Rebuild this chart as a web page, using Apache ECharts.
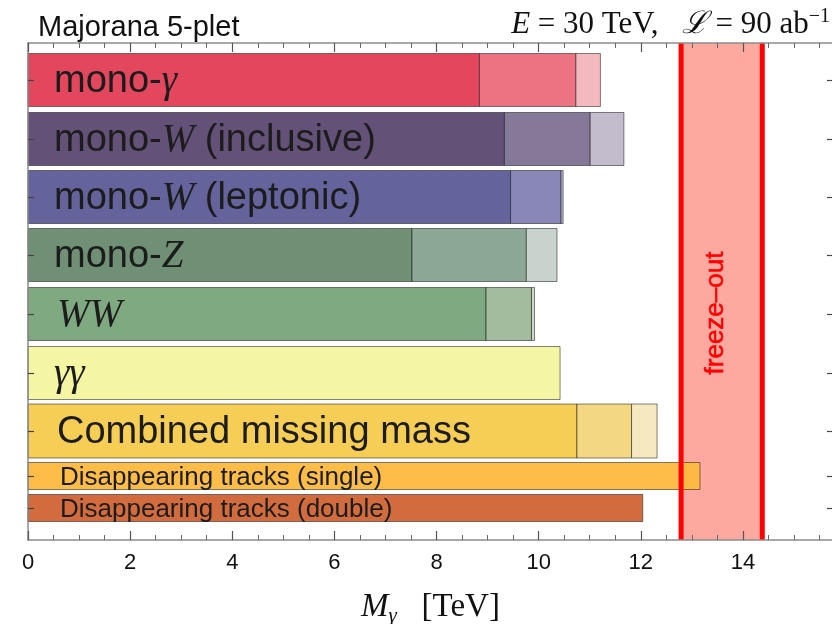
<!DOCTYPE html>
<html><head><meta charset="utf-8">
<script src="https://cdn.jsdelivr.net/npm/echarts@6/dist/echarts.min.js"></script>
<style>html,body{margin:0;padding:0;background:#fff}#c{width:832px;height:624px}</style>
</head><body><div id="c"></div>
<script>
// ---------------- data ----------------
const channels = ['mono-γ', 'mono-W (inclusive)', 'mono-W (leptonic)', 'mono-Z', 'WW', 'γγ',
  'Combined missing mass', 'Disappearing tracks (single)', 'Disappearing tracks (double)'];
const labelMarkup = ['mono-{i|γ}', 'mono-{i|W} (inclusive)', 'mono-{i|W} (leptonic)', 'mono-{i|Z}', '{i|WW}', '{i|γγ}',
  'Combined missing mass', 'Disappearing tracks (single)', 'Disappearing tracks (double)'];
// reach in M_chi [TeV] : first / second / third bar segment ends
const reachA = [8.84, 9.33, 9.45, 7.52, 8.97, 10.42, 10.75, 13.16, 12.04];
const reachB = [10.73, 11.01, 10.44, 9.76, 9.86, 10.42, 11.82, 13.16, 12.04];
const reachC = [11.21, 11.67, 10.48, 10.36, 9.92, 10.42, 12.32, 13.16, 12.04];
const freezeOut = [12.79, 14.38];
const xTickStep = 2;

// ---------------- styling / layout ----------------
const rowColors = [
  ['#e23d55', '#ec6b7c', '#f3b4bc'],
  ['#5b4870', '#7f7192', '#bfb8ca'],
  ['#5c5b97', '#8281b4', '#b9b9d6'],
  ['#678a6e', '#86a290', '#c5d1cb'],
  ['#78a479', '#9db898', '#c5d6c1'],
  ['#f4f59f', '#f4f59f', '#f4f59f'],
  ['#f5cb4c', '#f3d57c', '#f6e7bc'],
  ['#feb93f', '#feb93f', '#feb93f'],
  ['#d06435', '#d06435', '#d06435']
];
const rowCenter = [37, 96, 154, 212, 271, 330, 388, 433, 465]; // layout units (axis 0..497)
const rowHeight = [53, 53, 53, 53, 53, 53, 54, 27, 27];
const rowFont = [38, 38, 38, 38, 38, 38, 38, 26, 26];
const rowIndent = [26, 26, 26, 26, 29, 26, 29, 32, 32];

const SANS = "'Liberation Sans', Arial, Helvetica, sans-serif";
const NARROW = "'Liberation Sans Narrow', 'Liberation Sans', sans-serif";
const SERIF = "'Liberation Serif', 'Times New Roman', serif";

const barData = channels.map((c, i) => [i, reachA[i], reachB[i], reachC[i]]);

function renderBar(params, api) {
  const i = api.value(0);
  const vals = [0, api.value(1), api.value(2), api.value(3)];
  const yc = rowCenter[i], h = rowHeight[i];
  const children = [];
  for (let k = 0; k < 3; k++) {
    const a = vals[k], b = vals[k + 1];
    if (b - a <= 0.001) continue;
    const p0 = api.coord([a, yc]);
    const p1 = api.coord([b, yc]);
    children.push({
      type: 'rect',
      shape: { x: p0[0], y: p0[1] - h / 2, width: p1[0] - p0[0], height: h },
      style: { fill: rowColors[i][k], stroke: 'rgba(20,20,20,0.55)', lineWidth: 1, opacity: 0.95 }
    });
  }
  const p = api.coord([0, yc]);
  const fs = rowFont[i];
  children.push({
    type: 'text',
    x: p[0] + rowIndent[i],
    y: p[1] + 2,
    style: {
      text: labelMarkup[i],
      fill: '#1c1c1c',
      fontSize: fs,
      fontFamily: SANS,
      align: 'left',
      verticalAlign: 'middle',
      rich: {
        i: { fontFamily: SERIF, fontStyle: 'italic', fontSize: fs + 1, fill: '#1c1c1c' }
      }
    }
  });
  return { type: 'group', children };
}

function renderBand(params, api) {
  const a = api.coord([api.value(0), 0]);
  const b = api.coord([api.value(1), 497]);
  return {
    type: 'rect',
    shape: { x: a[0], y: a[1], width: b[0] - a[0], height: b[1] - a[1] },
    style: { fill: '#fea9a0' }
  };
}

function renderFreezeLines(params, api) {
  const a0 = api.coord([api.value(0), 0]);
  const a1 = api.coord([api.value(0), 497]);
  const b0 = api.coord([api.value(1), 0]);
  const b1 = api.coord([api.value(1), 497]);
  const cx = (a0[0] + b0[0]) / 2 - 6;
  return {
    type: 'group',
    children: [
      { type: 'line', shape: { x1: a0[0], y1: a0[1], x2: a1[0], y2: a1[1] }, style: { stroke: '#ff0000', lineWidth: 5 } },
      { type: 'line', shape: { x1: b0[0], y1: b0[1], x2: b1[0], y2: b1[1] }, style: { stroke: '#ff0000', lineWidth: 5 } },
      {
        type: 'text', x: cx, y: 313, rotation: Math.PI / 2,
        style: { text: 'freeze–out', fill: '#ff0000', fontSize: 26, fontFamily: SANS, align: 'center', verticalAlign: 'middle',
          stroke: '#ff0000', lineWidth: 0.6 }
      }
    ]
  };
}

const axisLineStyle = { color: '#8c8c8c', width: 1.5 };
function xAx(pos, showLabel) {
  return {
    type: 'value', position: pos, min: 0, max: 16, interval: xTickStep,
    axisLine: { show: true, onZero: false, lineStyle: axisLineStyle },
    axisTick: { show: true, inside: true, length: 9, lineStyle: { color: '#555', width: 1.2 } },
    minorTick: { show: true, splitNumber: 4, length: 5, lineStyle: { color: '#666', width: 1 } },
    splitLine: { show: false },
    axisLabel: { show: showLabel, margin: 12, fontSize: 22, color: '#111', fontFamily: NARROW, showMaxLabel: false },
    z: 10
  };
}
function yAx(pos, offset, showLine) {
  return {
    type: 'value', position: pos, offset: offset, inverse: true, min: 0, max: 497,
    axisLine: { show: showLine, onZero: false, lineStyle: axisLineStyle },
    axisTick: { show: true, inside: true, length: 6, customValues: rowCenter, lineStyle: { color: '#444', width: 1.2 } },
    axisLabel: { show: false },
    splitLine: { show: false },
    z: 10
  };
}

const option = {
  animation: false,
  backgroundColor: '#ffffff',
  grid: { left: 28, right: -13, top: 43, bottom: 84, containLabel: false, outerBoundsMode: 'none' },
  xAxis: [
    Object.assign(xAx('bottom', true), {
      name: '{i|M}{s|γ}   [TeV]',
      nameLocation: 'middle',
      nameGap: 48,
      nameTextStyle: {
        rich: {
          i: { fontFamily: SERIF, fontStyle: 'italic', fontSize: 33, color: '#111' },
          s: { fontFamily: SERIF, fontStyle: 'italic', fontSize: 21, color: '#111', padding: [18, 0, 0, 0] }
        },
        fontFamily: SERIF, fontSize: 33, color: '#111', padding: [0, 12, 0, 0]
      }
    }),
    xAx('top', false)
  ],
  yAxis: [yAx('left', 0, true), yAx('right', -12, false)],
  graphic: [
    { type: 'text', left: 38, top: 13, style: { text: 'Majorana 5-plet', fontSize: 29, fontFamily: NARROW, fill: '#111' } },
    {
      type: 'text', right: 2, top: 7,
      style: {
        text: '{i|E} = 30 TeV,   {i|ℒ} = 90 ab{s|−1}',
        fontSize: 31, fontFamily: SERIF, fill: '#111',
        rich: {
          i: { fontFamily: SERIF, fontStyle: 'italic', fontSize: 31, fill: '#111' },
          s: { fontFamily: SERIF, fontSize: 20, fill: '#111', verticalAlign: 'top', padding: [0, 0, 15, 0] }
        }
      }
    }
  ],
  series: [
    { type: 'custom', name: 'freeze-out band', data: [freezeOut], renderItem: renderBand, z: 1, silent: true, clip: false },
    { type: 'custom', name: 'reach', data: barData, renderItem: renderBar, z: 2, encode: { x: [1, 2, 3], y: 0 } },
    { type: 'custom', name: 'freeze-out lines', data: [freezeOut], renderItem: renderFreezeLines, z: 3, silent: true }
  ]
};
const chart = echarts.init(document.getElementById('c'), null, { renderer: 'canvas' });
chart.setOption(option);
</script>
</body></html>
